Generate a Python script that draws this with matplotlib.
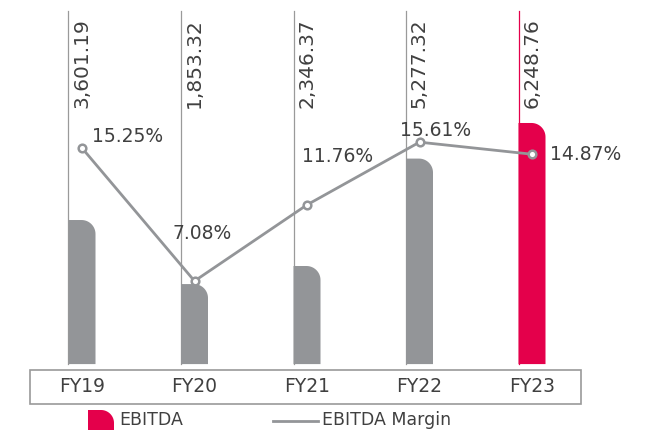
import numpy as np
import matplotlib
matplotlib.use("Agg")
import matplotlib.pyplot as plt
from matplotlib.patches import Polygon, Rectangle
from matplotlib.lines import Line2D
from matplotlib.transforms import blended_transform_factory

# Data
years = ['FY19', 'FY20', 'FY21', 'FY22', 'FY23']
ebitda = [3601.19, 1853.32, 2346.37, 5277.32, 6248.76]
margin = [15.25, 7.08, 11.76, 15.61, 14.87]

GREY = '#939598'
RED = '#e4004b'
TEXT = '#404040'

plt.rcParams['font.family'] = ['DejaVu Sans']

fig = plt.figure(figsize=(6.54, 4.33), dpi=100)
ax = fig.add_axes([0, 0, 1, 1])
ax.set_xlim(-82 / 112.5, (654 - 82) / 112.5)
ax.set_ylim(-81 / 0.03665, (433 - 81) / 0.03665)
ax.axis('off')

ax2 = ax.twinx()
ax2.set_ylim(-36.7 / 16.28, (433 - 36.7) / 16.28)
ax2.axis('off')

base = -330          # bars sit slightly below the value origin
width = 27 / 112.5
rx, ry = 14 / 112.5, 14 / 0.03665

x = np.arange(len(years))
colors = [GREY] * (len(years) - 1) + [RED]
tr = blended_transform_factory(ax.transData, ax.transAxes)

for xi, v, c in zip(x, ebitda, colors):
    x0 = xi - width / 2
    # vertical guide line at the bar's left edge
    ax.plot([x0, x0], [69 / 433, 422 / 433], color=c if c == RED else '#9a9a9a',
            lw=0.9, transform=tr, zorder=1)
    # bar with rounded top-right corner
    t = np.linspace(np.pi / 2, 0, 20)
    cx, cy = x0 + width - rx, v - ry
    arc = np.column_stack([cx + rx * np.cos(t), cy + ry * np.sin(t)])
    pts = np.vstack([[x0, base], [x0, v], arc, [x0 + width, base]])
    ax.add_patch(Polygon(pts, closed=True, facecolor=c, edgecolor='none', zorder=2))
    ax.text(xi, 325 / 433, f'{v:,.2f}', rotation=90, ha='center', va='bottom',
            fontsize=14.5, color=TEXT, transform=tr)
    ax.text(xi, 46 / 433, years[int(xi)], ha='center', va='center',
            fontsize=13.5, color=TEXT, transform=tr)

# margin line
ax2.plot(x, margin, color=GREY, lw=2, marker='o', ms=5.5, mfc='white',
         mec=GREY, mew=1.8, zorder=5)
label_offsets = [(46, 12), (8, 48), (31, 48), (16, 12), (54, 0)]
for xi, m, off in zip(x, margin, label_offsets):
    ax2.annotate(f'{m:.2f}%', (xi, m), xytext=off, textcoords='offset pixels',
                 ha='center', va='center', fontsize=13.5, color=TEXT, zorder=6)

# category box
fig.add_artist(Rectangle((30 / 654, 29 / 433), 551 / 654, 34 / 433,
                         transform=fig.transFigure, fill=False,
                         edgecolor='#9a9a9a', lw=1.2))

# legend
lx0, lw_, lh = 88 / 654, 26 / 654, 20 / 433
lrx, lry = 13 / 654, 13 / 433
t = np.linspace(np.pi / 2, 0, 20)
arc = np.column_stack([lx0 + lw_ - lrx + lrx * np.cos(t),
                       3 / 433 + lh - lry + lry * np.sin(t)])
pts = np.vstack([[lx0, 3 / 433], [lx0, 3 / 433 + lh], arc, [lx0 + lw_, 3 / 433]])
fig.add_artist(Polygon(pts, closed=True, facecolor=RED, edgecolor='none',
                       transform=fig.transFigure))
fig.text(119 / 654, 13 / 433, 'EBITDA', ha='left', va='center', fontsize=12.5, color=TEXT)
fig.add_artist(Line2D([273 / 654, 318 / 654], [12 / 433, 12 / 433], color=GREY,
                      lw=2, transform=fig.transFigure))
fig.text(322 / 654, 13 / 433, 'EBITDA Margin', ha='left', va='center', fontsize=12.5,
         color=TEXT)

fig.savefig('out.png', dpi=100)
